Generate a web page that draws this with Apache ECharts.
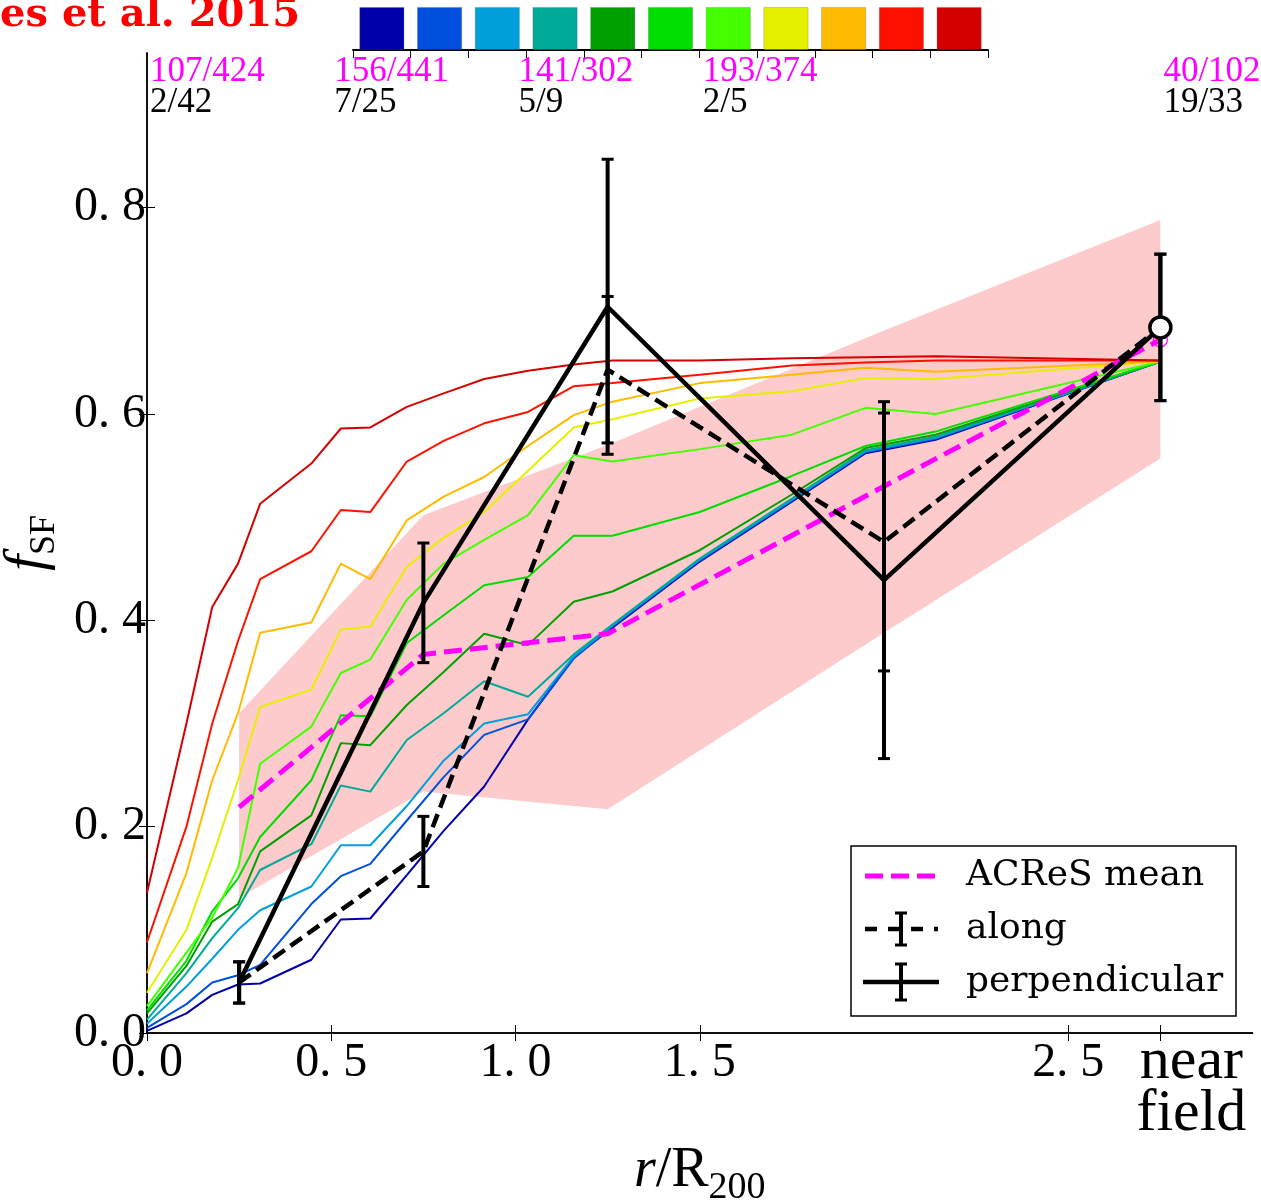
<!DOCTYPE html>
<html><head><meta charset="utf-8">
<script src="https://cdn.jsdelivr.net/npm/echarts@6/dist/echarts.min.js"></script>
<style>html,body{margin:0;padding:0;background:#fff}#c{width:1261px;height:1200px}</style>
</head><body><div id="c"></div>
<script>
// ---------------- data ----------------
const radii = [0, 0.107, 0.177, 0.247, 0.307, 0.446, 0.526, 0.606, 0.705, 0.805, 0.915, 1.034, 1.158, 1.263, 1.5, 1.75, 1.95, 2.14, 2.75];
const modelNames = ['m1','m2','m3','m4','m5','m6','m7','m8','m9','m10','m11'];
const modelColors = ['#0000AA','#0050DD','#00A0DD','#00AA99','#00A000','#00DD00','#44FF00','#E5F000','#FFBB00','#FF1100','#D40000'];
const model1 = [0.002, 0.019, 0.037, 0.047, 0.048, 0.071, 0.110, 0.111, 0.153, 0.196, 0.239, 0.304, 0.364, 0.393, 0.457, 0.515, 0.562, 0.575, 0.651];
const model2 = [0.005, 0.028, 0.049, 0.056, 0.066, 0.125, 0.152, 0.164, 0.206, 0.248, 0.289, 0.304, 0.363, 0.394, 0.458, 0.516, 0.563, 0.576, 0.651];
const model3 = [0.009, 0.045, 0.072, 0.100, 0.119, 0.142, 0.182, 0.182, 0.220, 0.264, 0.300, 0.309, 0.365, 0.395, 0.459, 0.517, 0.564, 0.577, 0.651];
const model4 = [0.013, 0.058, 0.092, 0.121, 0.158, 0.183, 0.240, 0.234, 0.284, 0.310, 0.341, 0.326, 0.367, 0.396, 0.460, 0.518, 0.565, 0.578, 0.651];
const model5 = [0.019, 0.065, 0.108, 0.125, 0.176, 0.211, 0.281, 0.279, 0.318, 0.350, 0.387, 0.376, 0.418, 0.428, 0.468, 0.522, 0.567, 0.580, 0.651];
const model6 = [0.022, 0.070, 0.118, 0.150, 0.190, 0.245, 0.308, 0.307, 0.378, 0.405, 0.434, 0.442, 0.482, 0.482, 0.505, 0.540, 0.569, 0.583, 0.651];
const model7 = [0.026, 0.078, 0.112, 0.160, 0.261, 0.297, 0.349, 0.362, 0.420, 0.455, 0.478, 0.502, 0.560, 0.554, 0.566, 0.580, 0.606, 0.600, 0.651];
const model8 = [0.039, 0.100, 0.170, 0.245, 0.316, 0.333, 0.391, 0.394, 0.452, 0.480, 0.505, 0.545, 0.587, 0.595, 0.615, 0.622, 0.635, 0.634, 0.651];
const model9 = [0.058, 0.155, 0.245, 0.310, 0.388, 0.398, 0.455, 0.440, 0.497, 0.520, 0.539, 0.569, 0.599, 0.612, 0.630, 0.638, 0.645, 0.641, 0.651];
const model10 = [0.088, 0.200, 0.300, 0.380, 0.440, 0.467, 0.507, 0.505, 0.554, 0.574, 0.591, 0.602, 0.627, 0.630, 0.638, 0.647, 0.650, 0.652, 0.652];
const model11 = [0.136, 0.300, 0.413, 0.455, 0.513, 0.552, 0.586, 0.587, 0.607, 0.620, 0.634, 0.642, 0.648, 0.652, 0.652, 0.654, 0.655, 0.656, 0.652];
const models = [model1, model2, model3, model4, model5, model6, model7, model8, model9, model10, model11];

const binX = [0.25, 0.75, 1.25, 2.0, 2.75];
const acresMean = [0.219, 0.367, 0.387, 0.530, 0.672];
const acresLow  = [0.131, 0.234, 0.217, 0.388, 0.557];
const acresHigh = [0.310, 0.502, 0.570, 0.681, 0.788];
const alongY   = [0.049, 0.176, 0.643, 0.476, 0.684];
const alongErr = [0.020, 0.034, 0.071, 0.125, 0.071];
const perpY    = [0.049, 0.417, 0.704, 0.439, 0.684];
const perpErr  = [0.020, 0.058, 0.143, 0.173, 0.071];
const fieldX = 2.75, fieldY = 0.684, acresFieldY = 0.672;

const countX = [0, 0.5, 1.0, 1.5, 2.75];
const acresCounts  = ['107/424', '156/441', '141/302', '193/374', '40/102'];
const sampleCounts = ['2/42', '7/25', '5/9', '2/5', '19/33'];

const xTicks = [0, 0.5, 1.0, 1.5, 2.5, 2.75];
const xNumTicks = [0, 0.5, 1.0, 1.5, 2.5];
const fieldTick = [2.75];
const yTicks = [0, 0.2, 0.4, 0.6, 0.8];

// ---------------- chart ----------------
const SERIF = '"Liberation Serif", "DejaVu Serif", serif';
const chart = echarts.init(document.getElementById('c'), null, {renderer: 'canvas'});

function errRender(capW, lw) {
  return function (params, api) {
    const x = api.value(0);
    const top = api.coord([x, api.value(2)]);
    const bot = api.coord([x, api.value(1)]);
    return {type: 'group', children: [
      {type: 'line', shape: {x1: top[0], y1: top[1], x2: bot[0], y2: bot[1]}, style: {stroke: '#000', lineWidth: lw}},
      {type: 'line', shape: {x1: top[0] - capW / 2, y1: top[1], x2: top[0] + capW / 2, y2: top[1]}, style: {stroke: '#000', lineWidth: 3}},
      {type: 'line', shape: {x1: bot[0] - capW / 2, y1: bot[1], x2: bot[0] + capW / 2, y2: bot[1]}, style: {stroke: '#000', lineWidth: 3}}
    ]};
  };
}

const series = [];
series.push({
  type: 'custom', xAxisIndex: 0, yAxisIndex: 0, z: 1, silent: true,
  encode: {x: 0, y: [1, 2]},
  data: binX.map((x, i) => [x, acresLow[i], acresHigh[i]]),
  renderItem: function (params, api) {
    if (params.dataIndex !== 0) return null;
    const pts = [];
    for (let i = 0; i < binX.length; i++) pts.push(api.coord([binX[i], acresHigh[i]]));
    for (let i = binX.length - 1; i >= 0; i--) pts.push(api.coord([binX[i], acresLow[i]]));
    return {type: 'polygon', shape: {points: pts}, style: {fill: '#FDCBCB'}};
  }
});
models.forEach((m, k) => {
  series.push({
    type: 'line', name: modelNames[k], xAxisIndex: 0, yAxisIndex: 0, z: 2 + k * 0.01,
    showSymbol: false, symbol: 'none', silent: true,
    data: radii.map((x, i) => [x, m[i]]),
    lineStyle: {color: modelColors[k], width: 2}
  });
});
series.push({
  type: 'line', name: 'ACReS mean', xAxisIndex: 0, yAxisIndex: 0, z: 3, symbol: 'none', silent: true,
  data: binX.map((x, i) => [x, acresMean[i]]),
  lineStyle: {color: '#FF00FF', width: 5, type: [18, 8]}
});
series.push({
  type: 'scatter', xAxisIndex: 0, yAxisIndex: 0, z: 3, silent: true,
  data: [[fieldX, acresFieldY]], symbol: 'circle', symbolSize: 14,
  itemStyle: {color: 'rgba(0,0,0,0)', borderColor: '#FF00FF', borderWidth: 1.2, opacity: 1}
});
series.push({
  type: 'line', name: 'along', xAxisIndex: 0, yAxisIndex: 0, z: 4, symbol: 'none', silent: true,
  data: binX.map((x, i) => [x, alongY[i]]),
  lineStyle: {color: '#000', width: 4.5, type: [14, 7]}
});
series.push({
  type: 'custom', xAxisIndex: 0, yAxisIndex: 0, z: 5, silent: true,
  encode: {x: 0, y: [1, 2]},
  data: binX.map((x, i) => [x, alongY[i] - alongErr[i], alongY[i] + alongErr[i]]),
  renderItem: errRender(12, 4)
});
series.push({
  type: 'line', name: 'perpendicular', xAxisIndex: 0, yAxisIndex: 0, z: 4, symbol: 'none', silent: true,
  data: binX.map((x, i) => [x, perpY[i]]),
  lineStyle: {color: '#000', width: 4.5}
});
series.push({
  type: 'custom', xAxisIndex: 0, yAxisIndex: 0, z: 5, silent: true,
  encode: {x: 0, y: [1, 2]},
  data: binX.map((x, i) => [x, perpY[i] - perpErr[i], perpY[i] + perpErr[i]]),
  renderItem: errRender(12, 4)
});
series.push({
  type: 'scatter', xAxisIndex: 0, yAxisIndex: 0, z: 6, silent: true,
  data: [[fieldX, fieldY]], symbol: 'circle', symbolSize: 21,
  itemStyle: {color: '#fff', borderColor: '#000', borderWidth: 3.5, opacity: 1}
});
series.push({
  type: 'scatter', xAxisIndex: 0, yAxisIndex: 0, z: 7, silent: true,
  data: countX.map(x => [x, 0.95]), symbolSize: 0,
  itemStyle: {color: 'rgba(0,0,0,0)', opacity: 1},
  label: {
    show: true, position: 'bottom', distance: 3, align: 'left', verticalAlign: 'top', offset: [3, 0],
    color: '#000', opacity: 1,
    formatter: p => '{m|' + acresCounts[p.dataIndex] + '}\n{k|' + sampleCounts[p.dataIndex] + '}',
    rich: {
      m: {color: '#FF00FF', fontFamily: SERIF, fontSize: 35, lineHeight: 31},
      k: {color: '#000000', fontFamily: SERIF, fontSize: 35, lineHeight: 31}
    }
  }
});
series.push({
  type: 'bar', xAxisIndex: 2, yAxisIndex: 2, silent: true, barWidth: '78%',
  data: modelColors.map(c => ({value: 1, itemStyle: {color: c, borderColor: 'rgba(90,90,90,0.35)', borderWidth: 0.8}}))
});

const axLine = {show: true, lineStyle: {color: '#000', width: 1.5}};
const option = {
  animation: false,
  backgroundColor: '#fff',
  grid: [
    {left: 147, right: 8.5, top: 53, bottom: 167, containLabel: false, outerBoundsMode: 'none'},
    {left: 353, top: 4, width: 635, height: 46, containLabel: false, outerBoundsMode: 'none'}
  ],
  xAxis: [
    {type: 'value', gridIndex: 0, min: 0, max: 3, position: 'bottom',
     axisLine: axLine, splitLine: {show: false},
     axisTick: {show: true, inside: true, length: 8, customValues: xTicks, lineStyle: {color: '#000', width: 1}},
     axisLabel: {show: true, customValues: xNumTicks, margin: 6, color: '#000', fontFamily: SERIF, fontSize: 48,
       hideOverlap: false, formatter: v => v.toFixed(1).replace('.', '. ')},
     name: '{i|r}{n|/R}{s|200}', nameLocation: 'middle', nameGap: 110,
     nameTextStyle: {rich: {
       i: {fontFamily: SERIF, fontStyle: 'italic', fontSize: 56, lineHeight: 64, verticalAlign: 'top', color: '#000'},
       n: {fontFamily: SERIF, fontSize: 56, lineHeight: 64, verticalAlign: 'top', color: '#000'},
       s: {fontFamily: SERIF, fontSize: 38, lineHeight: 38, verticalAlign: 'bottom', color: '#000'}}}
    },
    {type: 'value', gridIndex: 0, min: 0, max: 3, position: 'top',
     axisLine: axLine, splitLine: {show: false},
     axisTick: {show: true, inside: true, length: 8, customValues: xTicks, lineStyle: {color: '#000', width: 1}},
     axisLabel: {show: false}},
    {type: 'category', gridIndex: 1, position: 'top', data: modelNames,
     axisLine: {show: true, lineStyle: {color: '#000', width: 2}},
     axisTick: {show: true, inside: true, length: 8, lineStyle: {color: '#000', width: 1}},
     axisLabel: {show: false}, splitLine: {show: false}},
    {type: 'value', gridIndex: 0, min: 0, max: 3, position: 'bottom',
     axisLine: {show: false}, axisTick: {show: false}, splitLine: {show: false},
     axisLabel: {show: true, customValues: fieldTick, margin: 3, color: '#000', fontFamily: SERIF, fontSize: 60,
       formatter: () => '{nf|near}\n{nf|field}',
       rich: {nf: {fontFamily: SERIF, fontSize: 60, lineHeight: 52, padding: [0, 0, 0, 62], color: '#000'}}}}
  ],
  yAxis: [
    {type: 'value', gridIndex: 0, min: 0, max: 0.95, position: 'left',
     axisLine: axLine, splitLine: {show: false},
     axisTick: {show: true, inside: true, length: 8, customValues: yTicks, lineStyle: {color: '#000', width: 1}},
     axisLabel: {show: true, customValues: yTicks, margin: 1, color: '#000', fontFamily: SERIF, fontSize: 48,
       hideOverlap: false, formatter: v => v.toFixed(1).replace('.', '. ')},
     name: '{f|f}{s|SF}', nameLocation: 'middle', nameGap: 84, nameRotate: 90,
     nameTextStyle: {rich: {
       f: {fontFamily: SERIF, fontStyle: 'italic', fontSize: 58, lineHeight: 64, verticalAlign: 'top', color: '#000'},
       s: {fontFamily: SERIF, fontSize: 36, lineHeight: 36, verticalAlign: 'bottom', color: '#000'}}}
    },
    {type: 'value', gridIndex: 0, min: 0, max: 0.95, position: 'right',
     axisLine: axLine, splitLine: {show: false},
     axisTick: {show: true, inside: true, length: 8, customValues: yTicks, lineStyle: {color: '#000', width: 1}},
     axisLabel: {show: false}},
    {type: 'value', gridIndex: 1, min: 0, max: 1.07, show: false}
  ],
  graphic: [
    {type: 'text', left: 0, top: -4, z: 100, style: {text: 'es et al. 2015', fill: '#FF0000', font: 'bold 40px "DejaVu Serif"'}},
    {type: 'group', z: 100, children: [
      {type: 'rect', shape: {x: 851, y: 846, width: 385, height: 170}, style: {fill: '#fff', stroke: '#000', lineWidth: 1.5}},
      {type: 'line', shape: {x1: 865, y1: 876, x2: 938, y2: 876}, style: {stroke: '#FF00FF', lineWidth: 5, lineDash: [18, 8]}},
      {type: 'text', x: 966, y: 876, style: {text: 'ACReS mean', font: '36px "DejaVu Serif"', fill: '#000', verticalAlign: 'middle'}},
      {type: 'line', shape: {x1: 865, y1: 929, x2: 938, y2: 929}, style: {stroke: '#000', lineWidth: 4.5, lineDash: [12, 11]}},
      {type: 'line', shape: {x1: 901, y1: 913, x2: 901, y2: 945}, style: {stroke: '#000', lineWidth: 4}},
      {type: 'line', shape: {x1: 895, y1: 913, x2: 907, y2: 913}, style: {stroke: '#000', lineWidth: 3}},
      {type: 'line', shape: {x1: 895, y1: 945, x2: 907, y2: 945}, style: {stroke: '#000', lineWidth: 3}},
      {type: 'text', x: 966, y: 929, style: {text: 'along', font: '36px "DejaVu Serif"', fill: '#000', verticalAlign: 'middle'}},
      {type: 'line', shape: {x1: 863, y1: 982, x2: 939, y2: 982}, style: {stroke: '#000', lineWidth: 4.5}},
      {type: 'line', shape: {x1: 901, y1: 964, x2: 901, y2: 1000}, style: {stroke: '#000', lineWidth: 4}},
      {type: 'line', shape: {x1: 895, y1: 964, x2: 907, y2: 964}, style: {stroke: '#000', lineWidth: 3}},
      {type: 'line', shape: {x1: 895, y1: 1000, x2: 907, y2: 1000}, style: {stroke: '#000', lineWidth: 3}},
      {type: 'text', x: 966, y: 982, style: {text: 'perpendicular', font: '36px "DejaVu Serif"', fill: '#000', verticalAlign: 'middle'}}
    ]}
  ],
  series: series
};
chart.setOption(option);
</script>
</body></html>
